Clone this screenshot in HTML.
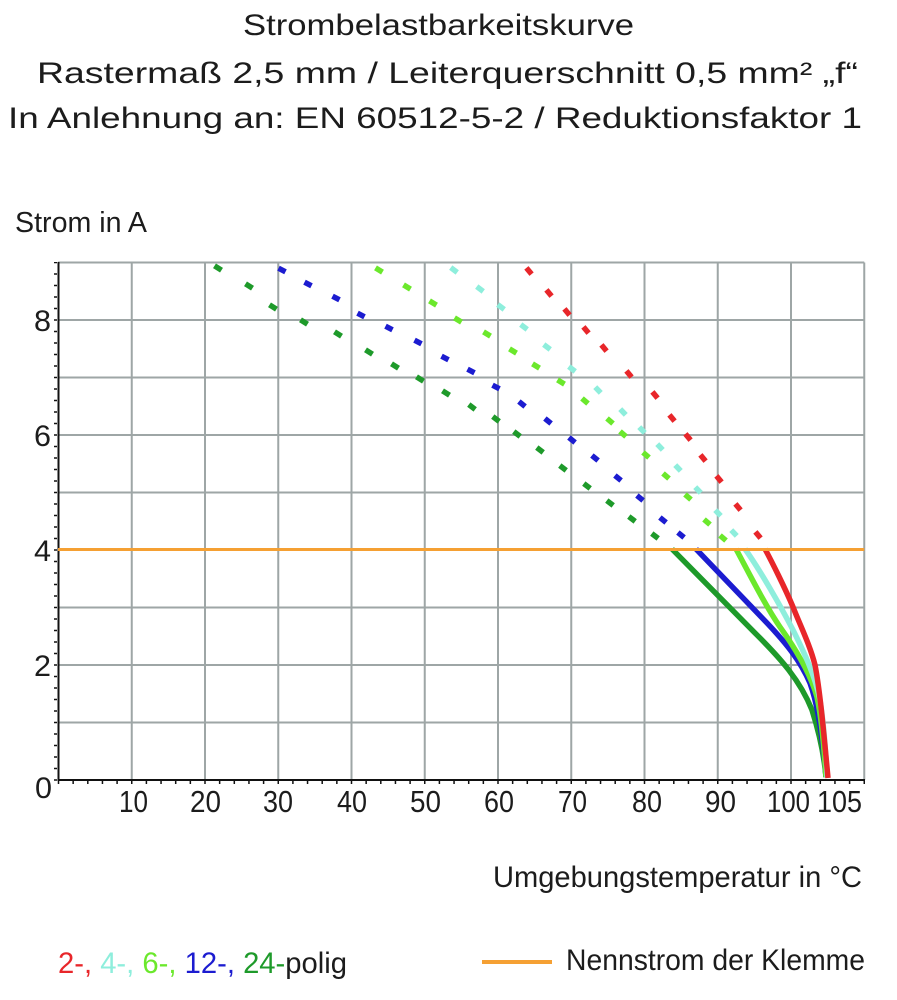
<!DOCTYPE html>
<html><head><meta charset="utf-8"><style>
html,body{margin:0;padding:0;background:#fff;}
svg{display:block;}
text{font-family:"Liberation Sans",sans-serif;fill:#1c1c1c;}
</style></head><body>
<svg width="897" height="1000" viewBox="0 0 897 1000" xmlns="http://www.w3.org/2000/svg">
<rect width="897" height="1000" fill="#fff"/>
<!-- titles -->
<text x="243" y="35" font-size="30" textLength="391" lengthAdjust="spacingAndGlyphs">Strombelastbarkeitskurve</text>
<text x="37" y="83" font-size="30" textLength="821" lengthAdjust="spacingAndGlyphs">Rastermaß 2,5 mm / Leiterquerschnitt 0,5 mm² „f“</text>
<text x="8" y="128" font-size="30" textLength="854" lengthAdjust="spacingAndGlyphs">In Anlehnung an: EN 60512-5-2 / Reduktionsfaktor 1</text>
<text x="15" y="232" font-size="29" textLength="132" lengthAdjust="spacingAndGlyphs">Strom in A</text>

<!-- grid -->
<g stroke="#9ea6a6" stroke-width="2" fill="none">
<path d="M131.75 262.5V780M205 262.5V780M278.25 262.5V780M351.5 262.5V780M424.75 262.5V780M498 262.5V780M571.25 262.5V780M644.5 262.5V780M717.75 262.5V780M791 262.5V780M864.25 262.5V780"/>
<path d="M58 722.5H864.25M58 665H864.25M58 607.5H864.25M58 492.5H864.25M58 435H864.25M58 377.5H864.25M58 320H864.25M58 262.5H864.25"/>
</g>
<!-- axes -->
<g stroke="#111" fill="none">
<path d="M58.5 262V781" stroke-width="2"/>
<path d="M57.5 780H865" stroke-width="2"/>
<path d="M55.5 780.75V262" stroke-width="3" stroke-dasharray="1.5 10"/>
<path d="M57.75 782.5H866" stroke-width="3" stroke-dasharray="1.5 13.15"/>
</g>

<!-- y labels -->
<g font-size="30" text-anchor="end">
<text x="51" y="331" textLength="17" lengthAdjust="spacingAndGlyphs">8</text>
<text x="51" y="446" textLength="17" lengthAdjust="spacingAndGlyphs">6</text>
<text x="51" y="561" textLength="17" lengthAdjust="spacingAndGlyphs">4</text>
<text x="51" y="676" textLength="17" lengthAdjust="spacingAndGlyphs">2</text>
<text x="52" y="798" textLength="17" lengthAdjust="spacingAndGlyphs">0</text>
</g>
<!-- x labels -->
<g font-size="31">
<text x="119" y="812" textLength="29" lengthAdjust="spacingAndGlyphs">10</text>
<text x="190" y="812" textLength="31" lengthAdjust="spacingAndGlyphs">20</text>
<text x="263" y="812" textLength="30" lengthAdjust="spacingAndGlyphs">30</text>
<text x="337" y="812" textLength="30" lengthAdjust="spacingAndGlyphs">40</text>
<text x="410" y="812" textLength="31" lengthAdjust="spacingAndGlyphs">50</text>
<text x="484" y="812" textLength="30" lengthAdjust="spacingAndGlyphs">60</text>
<text x="558" y="812" textLength="29" lengthAdjust="spacingAndGlyphs">70</text>
<text x="632" y="812" textLength="30" lengthAdjust="spacingAndGlyphs">80</text>
<text x="705" y="812" textLength="31" lengthAdjust="spacingAndGlyphs">90</text>
<text x="767" y="812" textLength="43" lengthAdjust="spacingAndGlyphs">100</text>
<text x="817" y="812" textLength="45" lengthAdjust="spacingAndGlyphs">105</text>
</g>

<!-- dashed parts -->
<g fill="none" stroke-width="5.5" stroke-linecap="butt">
<path stroke="#1e9a2a" d="M214.5 265.8l7 4.4M245.5 283.8l7 4.4M269.5 304.8l7 4.4M300.5 319.8l7 4.4M334.5 331.8l7 4.4M365.5 349.8l7 4.4M391.5 363.8l7 4.4M416.5 376.8l7 4.4M442.5 390.8l7 4.4M468.8 404.6l6.4 4.8M492.8 416.6l6.4 4.8M513.8 431.6l6.4 4.8M536.8 447.6l6.4 4.8M559.8 465.6l6.4 4.8M583.8 483.6l6.4 4.8M606.8 500.6l6.4 4.8M628.8 516.6l6.4 4.8M651.8 533.6l6.4 4.8"/>
<path stroke="#1c1cd0" d="M278.5 268.2l7 3.6M304.5 282.2l7 3.6M332.5 296.2l7 3.6M357.5 313.2l7 3.6M385.5 326.2l7 3.6M414.5 340.2l7 3.6M441.5 356.2l7 3.6M467.5 369.2l7 3.6M492.5 385.2l7 3.6M518.9 401.5l6.2 5M544.9 418.5l6.2 5M568.9 437.5l6.2 5M591.9 455.5l6.2 5M614.9 475.5l6.2 5M636.9 495.5l6.2 5M659.9 517.5l6.2 5M677.9 532.5l6.2 5"/>
<path stroke="#6be82c" d="M375.5 267.9l7 4.2M403.5 284.9l7 4.2M429.5 300.9l7 4.2M454.5 317.9l7 4.2M483.5 331.9l7 4.2M509.5 348.9l7 4.2M532.5 363.9l7 4.2M557.5 379.9l7 4.2M582 398.4l6 5.2M607 418.4l6 5.2M620 431.4l6 5.2M643 452.4l6 5.2M663 473.4l6 5.2M685 494.4l6 5.2M704 519.4l6 5.2M720 535.4l6 5.2"/>
<path stroke="#8eeedc" d="M450.75 267.6l6.5 4.8M476.75 286.6l6.5 4.8M497.75 304.6l6.5 4.8M520.75 324.6l6.5 4.8M543.75 344.6l6.5 4.8M568.75 366.6l6.5 4.8M595.25 387.1l5.5 5.8M620.25 409.1l5.5 5.8M639.25 427.1l5.5 5.8M657.25 444.1l5.5 5.8M675.25 465.1l5.5 5.8M695.25 487.1l5.5 5.8M715.25 510.1l5.5 5.8M731.25 530.1l5.5 5.8"/>
<path stroke="#e8262a" d="M526.4 267.9l5.2 6.2M546.4 289.9l5.2 6.2M564.4 308.9l5.2 6.2M583.4 326.9l5.2 6.2M601.4 344.9l5.2 6.2M626.4 370.9l5.2 6.2M652.4 391.9l5.2 6.2M669.4 414.9l5.2 6.2M685.4 433.9l5.2 6.2M700.4 454.9l5.2 6.2M716.4 475.9l5.2 6.2M735.4 503.9l5.2 6.2M755.4 531.9l5.2 6.2"/>
</g>

<!-- solid parts -->
<g fill="none" stroke-width="5.5" stroke-linejoin="round" stroke-linecap="butt">
<path stroke="#1e9a2a" d="M672 549L757 635C780 658 800 680 812 710C820 735 824 755 826 777"/>
<path stroke="#1c1cd0" d="M696 549L767 623C785 642 800 660 810 683C818 705 823 740 826 777"/>
<path stroke="#6be82c" d="M736 549C750 575 765 605 780 627C795 648 810 672 817 697C822 720 824 750 826 777"/>
<path stroke="#8eeedc" d="M745 549C760 570 780 605 793 630C803 650 815 675 820 700C824 725 826 755 827 777"/>
<path stroke="#e8262a" d="M765 549C772 562 785 588 793 607C800 625 810 645 815 665C820 690 824 735 828 778"/>
</g>

<!-- Nennstrom line -->
<path d="M58 549.5H864.25" stroke="#f5a033" stroke-width="3" fill="none"/>

<!-- axis title -->
<text x="493" y="887" font-size="30" textLength="369" lengthAdjust="spacingAndGlyphs">Umgebungstemperatur in °C</text>

<!-- legend -->
<text x="58" y="973" font-size="30" textLength="289" lengthAdjust="spacingAndGlyphs"><tspan fill="#e8262a">2-,</tspan><tspan fill="#8eeedc"> 4-,</tspan><tspan fill="#6be82c"> 6-,</tspan><tspan fill="#1c1cd0"> 12-,</tspan><tspan fill="#1e9a2a"> 24-</tspan><tspan fill="#1c1c1c">polig</tspan></text>
<path d="M482 962H552" stroke="#f5a033" stroke-width="4"/>
<text x="566" y="970" font-size="30" textLength="299" lengthAdjust="spacingAndGlyphs">Nennstrom der Klemme</text>
</svg>
</body></html>
